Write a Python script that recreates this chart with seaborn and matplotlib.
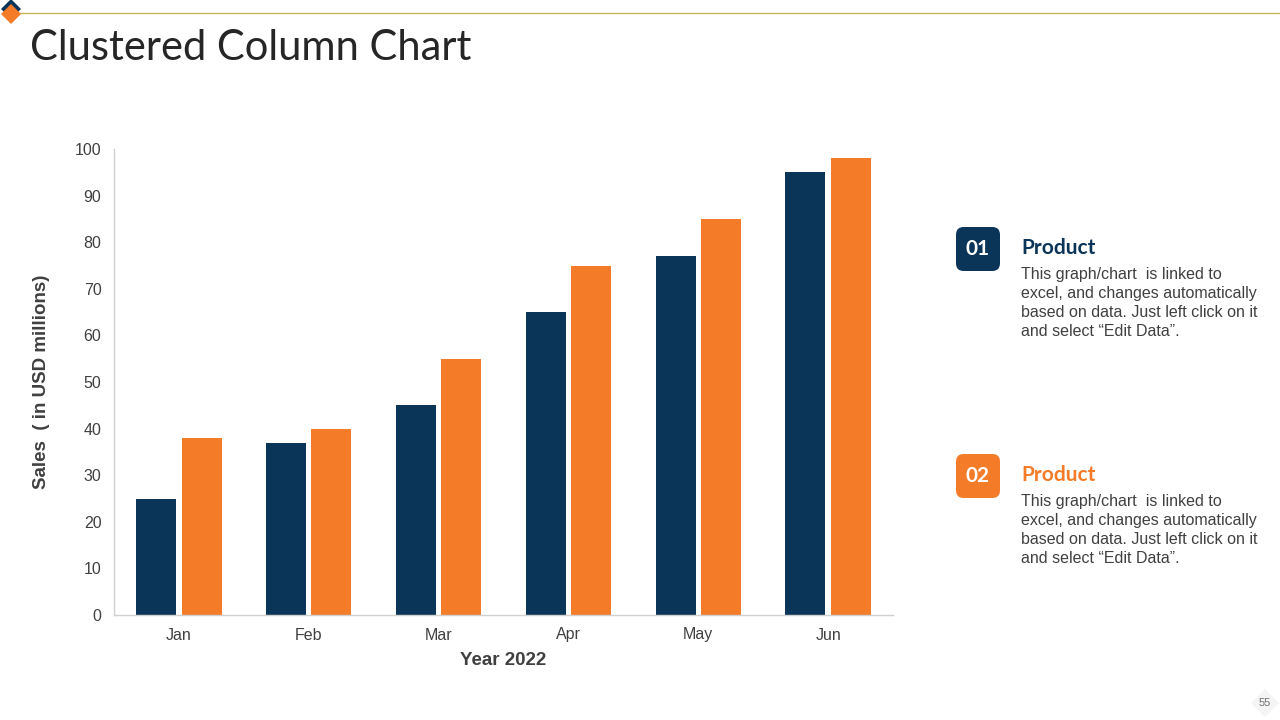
import matplotlib
matplotlib.use("Agg")
import matplotlib.pyplot as plt
from matplotlib.patches import FancyBboxPatch, Polygon
import seaborn as sns
import pandas as pd

months = ["Jan", "Feb", "Mar", "Apr", "May", "Jun"]
product_01 = [25, 37, 45, 65, 77, 95]
product_02 = [38, 40, 55, 75, 85, 98]
series_names = ["Product 01", "Product 02"]
y_ticks = [0, 10, 20, 30, 40, 50, 60, 70, 80, 90, 100]

NAVY = "#0A3558"
ORANGE = "#F47B28"
TXT = "#404040"

df = pd.DataFrame({
    "Month": months * 2,
    "Sales": product_01 + product_02,
    "Series": [series_names[0]] * 6 + [series_names[1]] * 6,
})

sns.set_theme(style="white")
plt.rcParams["font.family"] = ["Liberation Sans", "DejaVu Sans"]

fig = plt.figure(figsize=(12.8, 7.2), dpi=100)
ax = fig.add_axes([114 / 1280, 1 - 615 / 720, (893 - 114) / 1280, (615 - 149) / 720])

sns.barplot(data=df, x="Month", y="Sales", hue="Series", order=months,
            palette=[NAVY, ORANGE], width=0.70, gap=0.12, saturation=1,
            legend=False, ax=ax, edgecolor="none")

ax.set_ylim(0, 100)
ax.set_xlim(-0.5, 5.5)
ax.set_yticks(y_ticks)
ax.tick_params(axis="y", length=0, colors=TXT, labelsize=11.5, pad=9)
ax.tick_params(axis="x", length=0, colors=TXT, labelsize=11.5, pad=9)
for s in ["top", "right"]:
    ax.spines[s].set_visible(False)
for s in ["left", "bottom"]:
    ax.spines[s].set_color("#D0D0D0")
    ax.spines[s].set_linewidth(1.0)
ax.set_xlabel("Year 2022", fontsize=13.5, fontweight="bold", color=TXT, labelpad=7)
ax.set_ylabel("Sales  ( in USD millions)", fontsize=13.5, fontweight="bold", color=TXT, labelpad=18)

# Title and decorations
fig.text(30 / 1280, 1 - 48 / 720, "Clustered Column Chart", fontsize=30, color="#262626",
         family=["Lato", "DejaVu Sans"], fontweight="normal", va="center", ha="left")
fig.add_artist(plt.Line2D([18 / 1280, 1.0], [1 - 13 / 720, 1 - 13 / 720],
                          color="#C8B45A", linewidth=1.0, transform=fig.transFigure))

def diamond(cx, cy, r, color, z=5):
    pts = [(cx, cy - r), (cx + r, cy), (cx, cy + r), (cx - r, cy)]
    pts = [(x / 1280, 1 - y / 720) for x, y in pts]
    fig.add_artist(Polygon(pts, closed=True, facecolor=color, edgecolor="none",
                           transform=fig.transFigure, zorder=z))

diamond(11, 9, 10, NAVY, 5)
diamond(11, 14, 10, ORANGE, 6)

# Side panel
items = [(227, NAVY, "01"), (454, ORANGE, "02")]
body = "This graph/chart  is linked to\nexcel, and changes automatically\nbased on data. Just left click on it\nand select \u201cEdit Data\u201d."
for top, col, num in items:
    x0, w, h = 956, 44, 44
    box = FancyBboxPatch((x0 / 1280, 1 - (top + h) / 720), w / 1280, h / 720,
                         boxstyle="round,pad=0,rounding_size=0.006",
                         facecolor=col, edgecolor="none", transform=fig.transFigure,
                         mutation_aspect=1280 / 720)
    fig.add_artist(box)
    fig.text((x0 + w / 2) / 1280, 1 - (top + h / 2) / 720, num, color="white",
             fontsize=15, fontweight="bold", ha="center", va="center",
             family=["Lato", "DejaVu Sans"])
    fig.text(1021 / 1280, 1 - (top + 21) / 720, "Product", color=col, fontsize=15,
             fontweight="bold", ha="left", va="center", family=["Lato", "DejaVu Sans"])
    fig.text(1021 / 1280, 1 - (top + 40) / 720, body, color=TXT, fontsize=11.5,
             ha="left", va="top", linespacing=1.32)

# Page number
diamond(1265, 703, 14, "#F4F4F4", 1)
fig.text(1265 / 1280, 1 - 703 / 720, "55", fontsize=8, color="#707070",
         ha="center", va="center", zorder=3)

fig.savefig("out.png", dpi=100)
